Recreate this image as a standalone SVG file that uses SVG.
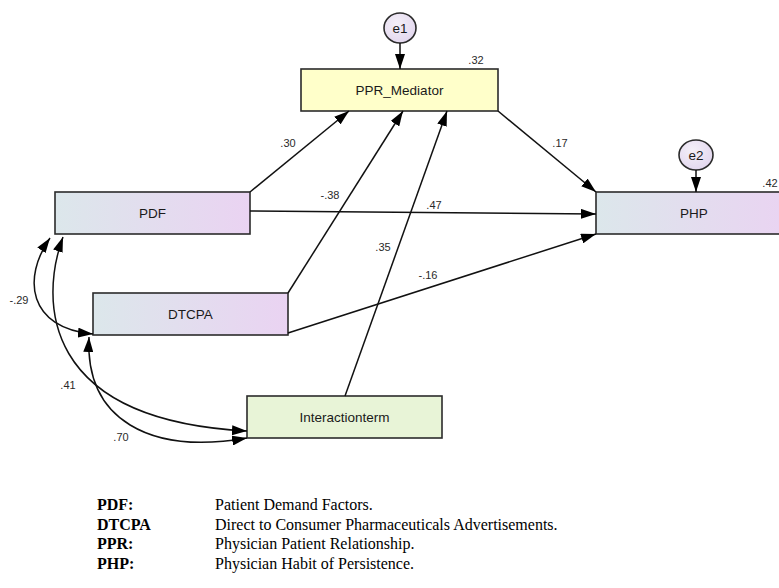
<svg xmlns="http://www.w3.org/2000/svg" width="779" height="588" viewBox="0 0 779 588">
<defs>
<linearGradient id="gBox" x1="0" y1="0" x2="1" y2="0">
<stop offset="0" stop-color="#DCE7EB"/>
<stop offset="1" stop-color="#EAD3F2"/>
</linearGradient>
<radialGradient id="gErr" cx="0.4" cy="0.35" r="0.7">
<stop offset="0" stop-color="#F4F0F8"/>
<stop offset="1" stop-color="#E2D6EE"/>
</radialGradient>
<marker id="ah" viewBox="0 0 15 10" refX="15" refY="5" markerWidth="15" markerHeight="10" markerUnits="userSpaceOnUse" orient="auto-start-reverse">
<path d="M0,0 L15,5 L0,10 z" fill="#000"/>
</marker>
</defs>
<style>
.box{stroke:#2b2b2b;stroke-width:1.6}
.obs{fill:url(#gBox)}
.err{fill:url(#gErr);stroke:#2b2b2b;stroke-width:1.6}
.nl{font-family:"Liberation Sans",Arial,sans-serif;font-size:13.5px;fill:#1a1a1a;text-anchor:middle}
.cl{font-family:"Liberation Sans",Arial,sans-serif;font-size:11px;fill:#2a2a2a;text-anchor:middle}
.edge{fill:none;stroke:#111;stroke-width:1.5;marker-end:url(#ah)}
.cov{fill:none;stroke:#111;stroke-width:1.5;marker-start:url(#ah);marker-end:url(#ah)}
.lgb{font-family:"Liberation Serif","Times New Roman",serif;font-size:16px;font-weight:bold;fill:#000}
.lg{font-family:"Liberation Serif","Times New Roman",serif;font-size:16px;fill:#000}
</style>
<rect width="779" height="588" fill="#fff"/>

<g id="e1">
<ellipse class="err" cx="400" cy="28" rx="16" ry="15"/>
<text class="nl" x="400" y="32.5">e1</text>
</g>
<g id="e2">
<ellipse class="err" cx="696" cy="155" rx="17" ry="15"/>
<text class="nl" x="696" y="159.5">e2</text>
</g>
<g id="PPR_Mediator">
<rect class="box" x="301" y="69" width="197" height="42" fill="#FFFFCA"/>
<text class="nl" x="399.5" y="94.5">PPR_Mediator</text>
<text class="cl" x="476" y="64">.32</text>
</g>
<g id="PDF">
<rect class="box obs" x="55" y="192" width="195" height="42"/>
<text class="nl" x="152.5" y="217.5">PDF</text>
</g>
<g id="DTCPA">
<rect class="box obs" x="93" y="293" width="195" height="42"/>
<text class="nl" x="190.5" y="318.5">DTCPA</text>
</g>
<g id="PHP">
<rect class="box obs" x="596" y="192" width="195" height="42"/>
<text class="nl" x="694" y="217.5">PHP</text>
<text class="cl" x="770" y="187">.42</text>
</g>
<g id="Interactionterm">
<rect class="box" x="247" y="396" width="195" height="42" fill="#E8F4D7"/>
<text class="nl" x="344.5" y="421.5">Interactionterm</text>
</g>

<g id="connectors">
<path class="edge" d="M400,43 L400,69"/>
<path class="edge" d="M696,170 L696,192"/>
<path class="edge" d="M250,192 L349,111"/>
<path class="edge" d="M288,293 L403,111"/>
<path class="edge" d="M345,396 L447,111"/>
<path class="edge" d="M498,111 L596,192"/>
<path class="edge" d="M250,211 L596,214"/>
<path class="edge" d="M288,333 L596,234"/>
<path class="cov" d="M50,238 C22,278 28,328 93,334"/>
<path class="cov" d="M63,237 C40,300 40,420 247,431"/>
<path class="cov" d="M89,337 C85,420 150,455 247,438"/>
<g class="labels">
<text class="cl" x="288" y="147">.30</text>
<text class="cl" x="330" y="199">-.38</text>
<text class="cl" x="434" y="209">.47</text>
<text class="cl" x="383" y="251">.35</text>
<text class="cl" x="560" y="147">.17</text>
<text class="cl" x="428" y="279">-.16</text>
<text class="cl" x="19" y="304">-.29</text>
<text class="cl" x="68" y="389">.41</text>
<text class="cl" x="121" y="441">.70</text>
</g>
</g>

<g id="legend">
<text class="lgb" x="97" y="510">PDF:</text>
<text class="lg" x="215" y="510">Patient Demand Factors.</text>
<text class="lgb" x="97" y="529.5">DTCPA</text>
<text class="lg" x="215" y="529.5">Direct to Consumer Pharmaceuticals Advertisements.</text>
<text class="lgb" x="97" y="549">PPR:</text>
<text class="lg" x="215" y="549">Physician Patient Relationship.</text>
<text class="lgb" x="97" y="568.5">PHP:</text>
<text class="lg" x="215" y="568.5">Physician Habit of Persistence.</text>
</g>
</svg>
